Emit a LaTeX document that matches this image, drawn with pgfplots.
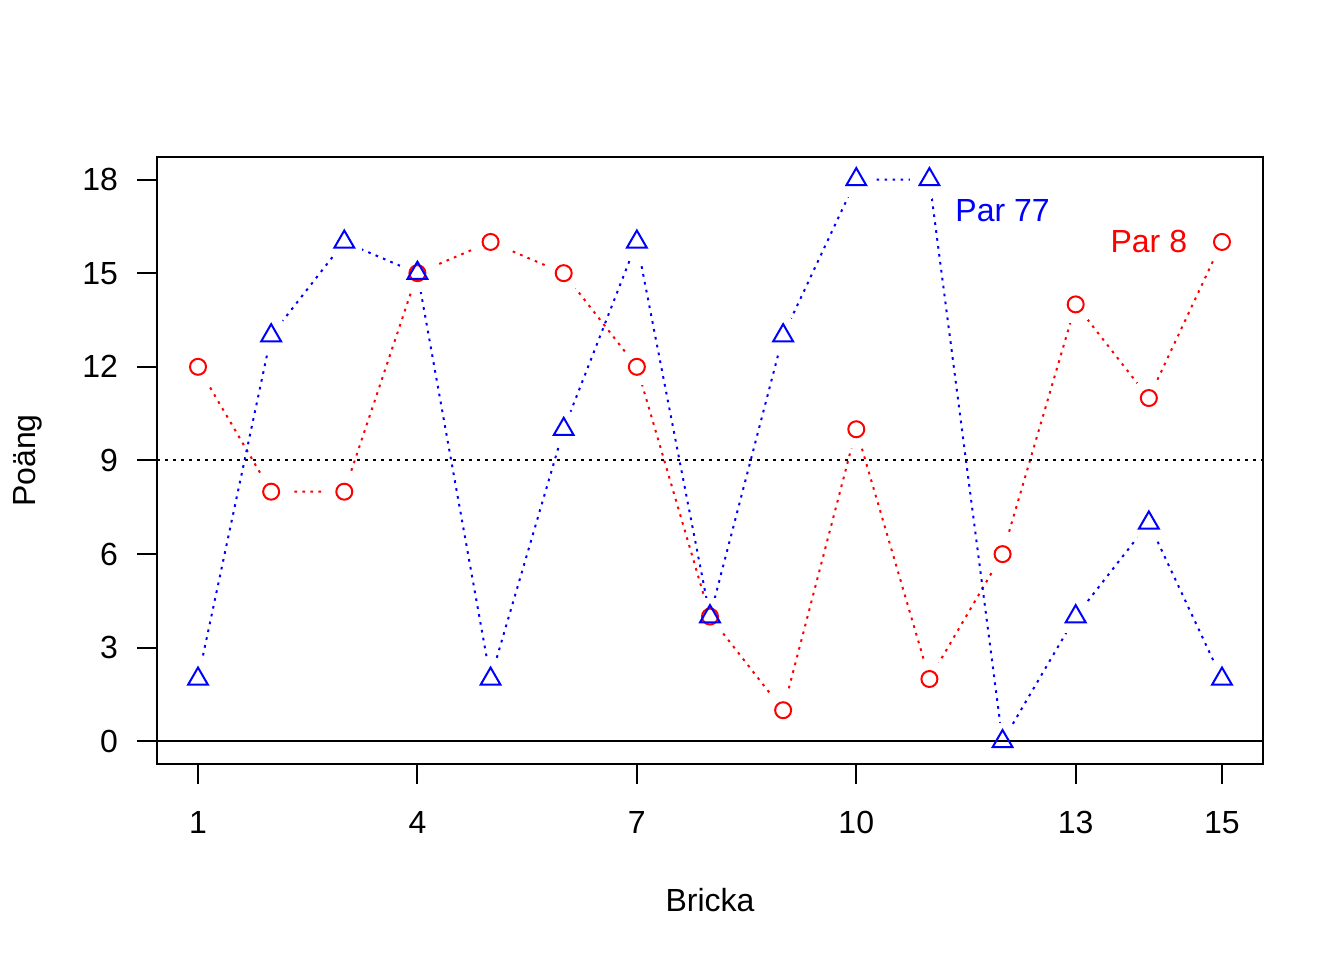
\documentclass[border=0pt]{standalone}
\usepackage{fontspec}
\setmainfont{Liberation Sans}
\usepackage{pgfplots}
\pgfplotsset{compat=1.18}
\pgfplotstableread{
x y
1 12
2 8
3 8
4 15
5 16
6 15
7 12
8 4
9 1
10 10
11 2
12 6
13 14
14 11
15 16
}\pareight
\pgfplotstableread{
x y
1 2
2 13
3 16
4 15
5 2
6 10
7 16
8 4
9 13
10 18
11 18
12 0
13 4
14 7
15 2
}\parsevensev
\begin{document}
\fontsize{12}{14}\selectfont
\begin{tikzpicture}
\begin{axis}[
  name=ax, at={(0,0)}, anchor=south west,
  scale only axis, width=414.75pt, height=227.6pt,
  xmin=0.44, xmax=15.56, ymin=-0.72, ymax=18.72,
  xtick={1,4,7,10,13,15}, ytick={0,3,6,9,12,15,18},
  tick align=outside, tick pos=left, major tick length=7.5pt,
  axis line style={line width=0.75pt},
  every tick/.style={black, line width=0.75pt},
  /pgf/number format/assume math mode=true,
  xticklabel style={yshift=-6pt},
  yticklabel style={xshift=-3pt},
  xlabel={Bricka}, ylabel={Poäng},
  xlabel style={at={(axis description cs:0.5,-0.2425)}, anchor=base},
  ylabel style={at={(axis description cs:-0.1102,0.5)}, anchor=base, rotate=0},
  clip=true, clip marker paths=true,
]
% Par 8 line with gaps
\addplot[red, line width=0.75pt, dash pattern=on 1pt off 2pt, no marks] table {\pareight};
\addplot[white, only marks, mark=*, mark size=7pt, mark options={fill=white, draw=white, line width=0pt}] table {\pareight};
% Par 77 line with gaps
\addplot[blue, line width=0.75pt, dash pattern=on 1pt off 2pt, no marks] table {\parsevensev};
\addplot[white, only marks, mark=*, mark size=7pt, mark options={fill=white, draw=white, line width=0pt}] table {\parsevensev};
% reference lines
\addplot[black, line width=0.75pt, dash pattern=on 1pt off 2pt, no marks] coordinates {(0.44,9) (15.56,9)};
\addplot[black, line width=0.75pt, no marks] coordinates {(0.44,0) (15.56,0)};
% markers
\addplot[only marks, red, mark=o, mark size=3pt, mark options={line width=0.75pt, solid}] table {\pareight};
\addplot[only marks, blue, mark=triangle, mark size=4.3pt, mark options={line width=0.75pt, solid}] table {\parsevensev};
\node[blue] at (axis cs:12,17) {Par 77};
\node[red] at (axis cs:14,16) {Par 8};
\end{axis}
\pgfresetboundingbox
\path[use as bounding box] ([shift={(-58.9pt,-73.5pt)}]ax.south west) rectangle ([shift={(30.4pt,58.9pt)}]ax.north east);
\end{tikzpicture}
\end{document}
